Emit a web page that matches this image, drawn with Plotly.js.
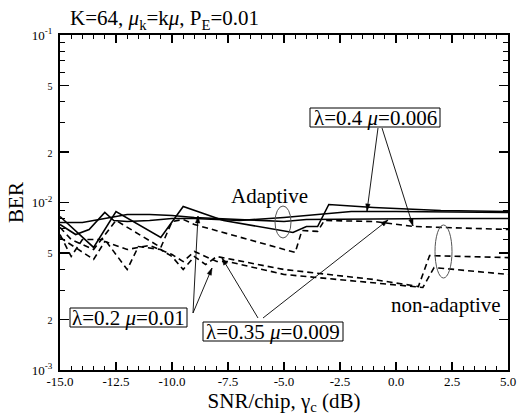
<!DOCTYPE html>
<html>
<head>
<meta charset="utf-8">
<script src="https://cdn.plot.ly/plotly-3.0.1.min.js"></script>
<style>html,body{margin:0;padding:0;background:#fff;}#chart{width:519px;height:415px;}</style>
</head>
<body>
<div id="chart"></div>
<script>
// ---- data (SNR/chip in dB, BER) ----
var adaptA_x = [-15, -13.5, -12.5, -10.5, -9.5, -7.7, -4.6, -4, -3.5, -3, -1, 2, 5];
var adaptA_y = [8.25e-3, 5.39e-3, 8.84e-3, 6.18e-3, 9.46e-3, 7.81e-3, 6.62e-3, 7.19e-3, 7.19e-3, 9.73e-3, 9.34e-3, 8.96e-3, 8.84e-3];

var adaptB_x = [-15, -14.3, -13.7, -13, -12.6, -12, -11, -10, -9, -7, -5, -4, -3, -2, 0, 2, 5];
var adaptB_y = [7.39e-3, 6.44e-3, 6.90e-3, 8.72e-3, 7.81e-3, 7.70e-3, 7.81e-3, 8.03e-3, 8.03e-3, 7.81e-3, 8.14e-3, 8.37e-3, 8.60e-3, 8.84e-3, 8.84e-3, 8.78e-3, 8.72e-3];

var adaptC_x = [-15, -14, -13, -12, -11, -10, -9, -8, -6, -5, -4, -2, 0, 2, 5];
var adaptC_y = [7.60e-3, 7.60e-3, 8.03e-3, 8.48e-3, 8.48e-3, 8.37e-3, 8.14e-3, 8.03e-3, 7.81e-3, 7.70e-3, 7.92e-3, 7.98e-3, 8.03e-3, 8.03e-3, 8.03e-3];

var nonU_x = [-15, -14.5, -13.5, -12.5, -10.5, -10, -9.5, -9, -4.5, -4.2, -3.5, -3.2, -1, 0, 0.8, 5];
var nonU_y = [7.10e-3, 6.01e-3, 5.24e-3, 7.81e-3, 5.39e-3, 7.70e-3, 7.92e-3, 7.39e-3, 5.03e-3, 6.81e-3, 6.72e-3, 7.81e-3, 7.70e-3, 7.39e-3, 7.19e-3, 6.90e-3];

var nonM_x = [-15, -14.5, -14, -13, -12, -11.5, -10.5, -10, -9.5, -9, -8.5, -8, -5, -1, 1, 1.5, 5];
var nonM_y = [6.44e-3, 4.76e-3, 6.01e-3, 6.01e-3, 3.98e-3, 5.46e-3, 5.24e-3, 4.76e-3, 3.98e-3, 4.76e-3, 4.26e-3, 4.76e-3, 3.98e-3, 3.47e-3, 3.15e-3, 4.82e-3, 4.69e-3];

var nonL_x = [-15, -13.5, -13, -12, -11, -10, -9.5, -9, -8, -7.5, -5, -1, 1.2, 1.7, 5];
var nonL_y = [6.18e-3, 4.57e-3, 5.85e-3, 5.24e-3, 5.54e-3, 4.89e-3, 4.44e-3, 5.10e-3, 4.44e-3, 4.44e-3, 3.72e-3, 3.33e-3, 3.11e-3, 4.09e-3, 3.72e-3];

var xTickVals = [-15, -12.5, -10, -7.5, -5, -2.5, 0, 2.5, 5];
var xTickText = ['-15.0', '-12.5', '-10.0', '-7.5', '-5.0', '-2.5', '0.0', '2.5', '5.0'];
var yTickVals = [0.001, 0.002, 0.005, 0.01, 0.02, 0.05, 0.1];
var yTickText = ['10<sup>-3</sup>', '<span style="font-size:10px">2</span>', '<span style="font-size:10px">5</span>',
                 '10<sup>-2</sup>', '<span style="font-size:10px">2</span>', '<span style="font-size:10px">5</span>', '10<sup>-1</sup>'];
var yMinorVals = [0.003, 0.004, 0.006, 0.007, 0.008, 0.009, 0.03, 0.04, 0.06, 0.07, 0.08, 0.09];

var FONT = 'Liberation Serif, Times New Roman, serif';

// plot area in pixels (for placing annotations / callout shapes in paper coords)
var PL = 60, PR = 508, PT = 35, PB = 370;
function px(x) { return (x - PL) / (PR - PL); }
function py(y) { return (PB - y) / (PB - PT); }

function solid(x, y) {
  return {x: x, y: y, type: 'scatter', mode: 'lines', line: {color: '#000', width: 1.6}, showlegend: false, hoverinfo: 'skip'};
}
function dashed(x, y) {
  return {x: x, y: y, type: 'scatter', mode: 'lines', line: {color: '#000', width: 1.6, dash: '6px,4px'}, showlegend: false, hoverinfo: 'skip'};
}

var data = [
  solid(adaptA_x, adaptA_y), solid(adaptB_x, adaptB_y), solid(adaptC_x, adaptC_y),
  dashed(nonU_x, nonU_y), dashed(nonM_x, nonM_y), dashed(nonL_x, nonL_y)
];

// callout arrows: [tailX, tailY, tipX, tipY] in pixels
var callouts = [
  [378, 128, 367, 211], [382, 128, 413, 226],
  [193, 313, 198, 216], [193, 313, 212, 268],
  [258, 318, 222, 258], [263, 318, 388, 220]
];

var shapes = [];
callouts.forEach(function (c) {
  shapes.push({type: 'line', xref: 'paper', yref: 'paper', x0: px(c[0]), y0: py(c[1]), x1: px(c[2]), y1: py(c[3]),
               line: {color: '#000', width: 0.9}});
  var dx = c[2] - c[0], dy = c[3] - c[1], L = Math.sqrt(dx * dx + dy * dy);
  var ux = dx / L, uy = dy / L, len = 7, hw = 2.2;
  var bx = c[2] - ux * len, by = c[3] - uy * len;
  var p1x = bx - uy * hw, p1y = by + ux * hw, p2x = bx + uy * hw, p2y = by - ux * hw;
  shapes.push({type: 'path', xref: 'paper', yref: 'paper',
               path: 'M' + px(c[2]) + ',' + py(c[3]) + ' L' + px(p1x) + ',' + py(p1y) + ' L' + px(p2x) + ',' + py(p2y) + ' Z',
               fillcolor: '#000', line: {color: '#000', width: 0.5}});
});
function rect(x0, y0, x1, y1) {
  return {type: 'rect', xref: 'paper', yref: 'paper', x0: px(x0), y0: py(y1), x1: px(x1), y1: py(y0),
          line: {color: '#000', width: 1}, fillcolor: '#fff', layer: 'above'};
}
function ellipse(x0, y0, x1, y1) {
  return {type: 'circle', xref: 'paper', yref: 'paper', x0: px(x0), y0: py(y1), x1: px(x1), y1: py(y0),
          line: {color: '#555', width: 1}};
}
shapes.push(rect(70, 308, 187, 327), rect(203, 322, 343, 341), rect(310, 108, 440, 127));
shapes.push(ellipse(275, 206, 291, 238), ellipse(435, 225, 452, 278));

function label(x, y, t) {
  return {xref: 'paper', yref: 'paper', x: px(x), y: py(y), text: t, showarrow: false,
          xanchor: 'center', yanchor: 'middle', font: {family: FONT, size: 21, color: '#000'}};
}

var layout = {
  width: 519, height: 415,
  margin: {l: PL, r: 519 - PR, t: PT, b: 415 - PB},
  paper_bgcolor: '#fff', plot_bgcolor: '#fff',
  font: {family: FONT, color: '#000', size: 13},
  title: {text: 'K=64, <i>μ</i><sub>k</sub>=k<i>μ</i>, P<sub>E</sub>=0.01', font: {family: FONT, size: 21, color: '#000'},
          x: 0.135, xanchor: 'left', xref: 'container', y: 0.957, yanchor: 'middle', yref: 'container'},
  xaxis: {
    range: [-15, 5], tickmode: 'array', tickvals: xTickVals, ticktext: xTickText,
    ticks: 'inside', ticklen: 8, tickwidth: 1.3, tickcolor: '#000',
    minor: {dtick: 0.5, tick0: -15, ticks: 'inside', ticklen: 4, tickwidth: 1, tickcolor: '#000'},
    showline: true, linewidth: 2, linecolor: '#000', mirror: 'ticks',
    showgrid: false, zeroline: false, tickfont: {family: FONT, size: 13, color: '#000'},
    ticklabelstandoff: -2,
    title: {text: 'SNR/chip, γ<sub>c</sub> (dB)', font: {family: FONT, size: 21, color: '#000'}, standoff: 0},
    automargin: false
  },
  yaxis: {
    type: 'log', range: [-3, -1], tickmode: 'array', tickvals: yTickVals, ticktext: yTickText,
    ticks: 'inside', ticklen: 9, tickwidth: 1.3, tickcolor: '#000',
    minor: {tickmode: 'array', tickvals: yMinorVals, ticks: 'inside', ticklen: 5, tickwidth: 1, tickcolor: '#000'},
    showline: true, linewidth: 2, linecolor: '#000', mirror: 'ticks',
    showgrid: false, zeroline: false, tickfont: {family: FONT, size: 13, color: '#000'},
    ticklabelstandoff: 3,
    title: {text: 'BER', font: {family: FONT, size: 21, color: '#000'}, standoff: 2},
    automargin: false
  },
  shapes: shapes,
  annotations: [
    label(128.5, 317.7, 'λ=0.2 <i>μ</i>=0.01'),
    label(273, 331.5, 'λ=0.35 <i>μ</i>=0.009'),
    label(375, 117.7, 'λ=0.4 <i>μ</i>=0.006'),
    label(269, 196, 'Adaptive'),
    label(446, 305, 'non-adaptive')
  ]
};

Plotly.newPlot('chart', data, layout, {displayModeBar: false, staticPlot: true});
</script>
</body>
</html>
